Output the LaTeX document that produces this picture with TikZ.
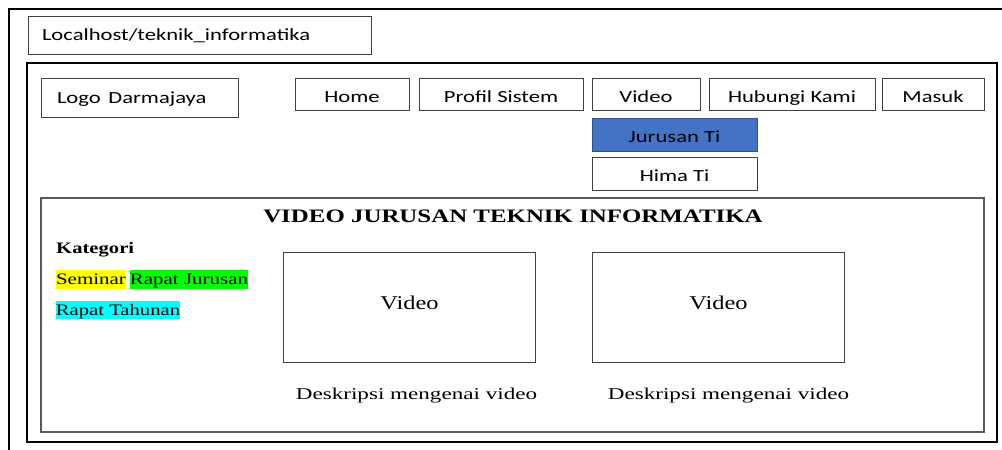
\documentclass[tikz,border=0pt]{standalone}
\usepackage{fontspec}
\usepackage{graphicx}
\newfontfamily\uifont{Carlito}
\newfontfamily\tmfont{Liberation Serif}
\newcommand\sx[2]{\scalebox{#1}[1]{#2}}
\definecolor{jblue}{RGB}{68,114,196}
\definecolor{jedge}{RGB}{47,82,143}
\definecolor{hlyellow}{RGB}{255,255,0}
\definecolor{hlgreen}{RGB}{0,255,0}
\definecolor{hlcyan}{RGB}{0,255,255}
\begin{document}
\begin{tikzpicture}[x=1pt,y=-1pt,
  box/.style={draw=black!75, line width=0.9pt, inner sep=0pt,
    font=\uifont\fontsize{17}{20}\selectfont, text height=16pt, text depth=0pt},
  hl/.style={inner sep=0pt, font=\tmfont\fontsize{16}{19}\selectfont,
    text height=10.6pt, text depth=0pt},
  vbox/.style={draw=black!75, line width=1pt, inner sep=0pt,
    minimum width=252pt, minimum height=110pt,
    font=\tmfont\fontsize{19.5}{23}\selectfont, text height=12.9pt, text depth=8pt},
  desc/.style={anchor=base, inner sep=0pt, font=\tmfont\fontsize{16.5}{19}\selectfont},
  frame/.style={draw=black, line width=2.2pt, inner sep=0pt},
  content/.style={draw=black!65, line width=1.4pt, inner sep=0pt}]
\useasboundingbox (0,0) rectangle (1002,450);
% page edge
\coordinate (pbl) at (9,450);
\coordinate (ptl) at (9,9);
\coordinate (ptr) at (1002,9);
\draw[line width=2pt] (pbl) -- (ptl) -- (ptr);
% frames
\node[frame, minimum width=970pt, minimum height=379pt] (win) at (512,252.5) {};
\node[content, minimum width=943pt, minimum height=234pt] (cont) at (512.5,315) {};
% address bar
\node[box, text height=11pt, minimum width=343pt, minimum height=38pt, text width=315pt, inner xsep=14pt, align=left]
  (url) at (199.5,35) {\sx{1.33}{Localhost/teknik\_informatika}};
% header
\node[box, text height=11pt, minimum width=197pt, minimum height=39pt, text width=165pt, inner xsep=16pt, align=left]
  (logo) at (139.5,97.5) {\sx{1.33}{Logo Darmajaya}};
\node[box, minimum width=114pt, minimum height=32pt] (home) at (352,94) {\sx{1.33}{Home}};
\node[box, minimum width=164pt, minimum height=32pt] (profil) at (501,94) {\sx{1.33}{Profil Sistem}};
\node[box, minimum width=108pt, minimum height=32pt] (video) at (646,94) {\sx{1.33}{Video}};
\node[box, minimum width=166pt, minimum height=32pt] (hub) at (792,94) {\sx{1.33}{Hubungi Kami}};
\node[box, minimum width=102pt, minimum height=32pt] (masuk) at (933,94) {\sx{1.33}{Masuk}};
\node[box, draw=jedge, fill=jblue, minimum width=165pt, minimum height=33pt] (jur) at (674.5,134.5) {\sx{1.33}{Jurusan Ti}};
\node[box, minimum width=165pt, minimum height=33pt] (hima) at (674.5,173.5) {\sx{1.33}{Hima Ti}};
% content
\node[anchor=base, inner sep=0pt, font=\tmfont\bfseries\fontsize{19}{22}\selectfont]
  (title) at (513,222) {\sx{1.31}{VIDEO JURUSAN TEKNIK INFORMATIKA}};
\node[anchor=base west, inner sep=0pt, font=\tmfont\bfseries\fontsize{16}{19}\selectfont]
  (kat) at (56,253) {\sx{1.29}{Kategori}};
\node[hl, fill=hlyellow, minimum width=70pt, minimum height=19pt] (sem) at (91,279.5) {\sx{1.31}{Seminar}};
\node[hl, fill=hlgreen, minimum width=118pt, minimum height=19pt] (rj) at (189,279.5) {\sx{1.31}{Rapat Jurusan}};
\node[hl, fill=hlcyan, minimum width=124pt, minimum height=18pt] (rt) at (118,310) {\sx{1.29}{Rapat Tahunan}};
\node[vbox] (v1) at (409.5,307) {\sx{1.25}{Video}};
\node[vbox] (v2) at (718.5,307) {\sx{1.25}{Video}};
\node[desc] (d1) at (416.5,399) {\sx{1.4}{Deskripsi mengenai video}};
\node[desc] (d2) at (728.5,399) {\sx{1.4}{Deskripsi mengenai video}};
\end{tikzpicture}
\end{document}
